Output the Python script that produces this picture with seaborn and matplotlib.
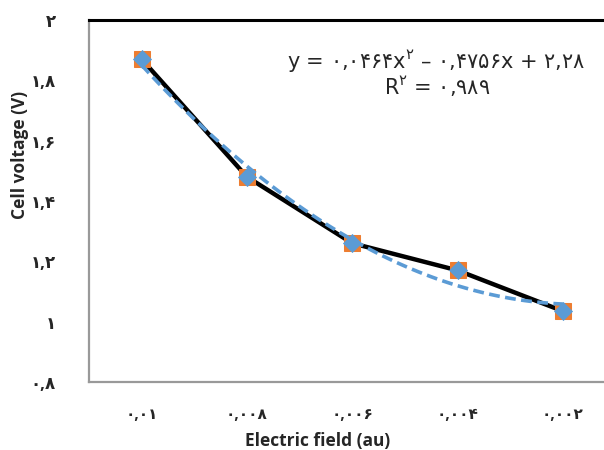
import matplotlib
matplotlib.use('Agg')
import matplotlib.pyplot as plt
import seaborn as sns
import numpy as np
import pandas as pd

# 数据
field_labels = ['۰,۰۱', '۰,۰۰۸', '۰,۰۰۶', '۰,۰۰۴', '۰,۰۰۲']
cell_voltage = [1.87, 1.48, 1.26, 1.17, 1.035]
y_ticks = [0.8, 1.0, 1.2, 1.4, 1.6, 1.8, 2.0]
y_tick_labels = ['۰,۸', '۱', '۱,۲', '۱,۴', '۱,۶', '۱,۸', '۲']
eq_text = 'y = ۰,۰۴۶۴x$^{\\mathregular{۲}}$ – ۰,۴۷۵۶x + ۲,۲۸'
r2_text = 'R$^{\\mathregular{۲}}$ = ۰,۹۸۹'

sns.set_theme(style='white')
plt.rcParams['font.family'] = ['Open Sans', 'DejaVu Sans']
plt.rcParams['mathtext.fontset'] = 'dejavusans'

df = pd.DataFrame({'pos': np.arange(len(field_labels)), 'voltage': cell_voltage})

fig = plt.figure(figsize=(6.04, 4.5), dpi=100)
ax = fig.add_axes([89 / 604, 1 - 382 / 450, 526.5 / 604, 362 / 450])

# 黑色折线 + 橙色方块
sns.lineplot(data=df, x='pos', y='voltage', ax=ax, color='black', linewidth=3.2,
             marker='s', markersize=11, markerfacecolor='#ED7D31',
             markeredgecolor='#ED7D31', zorder=3)

# 二次多项式趋势线
coef = np.polyfit(df['pos'] + 1, df['voltage'], 2)
xs = np.linspace(1, len(field_labels), 100)
ax.plot(xs - 1, np.polyval(coef, xs), color='#5B9BD5', linewidth=2.6,
        linestyle=(0, (3, 1.5)), zorder=4)

# 蓝色菱形
sns.scatterplot(data=df, x='pos', y='voltage', ax=ax, marker='D', s=85,
                color='#5B9BD5', edgecolor='#5B9BD5', linewidth=0.5, zorder=5)

ax.set_xlim(-0.5, 4.5)
ax.set_ylim(0.8, 2.0)
ax.set_xticks(df['pos'])
ax.set_xticklabels(field_labels, fontsize=11, fontweight='bold', color='#262626')
ax.set_yticks(y_ticks)
ax.set_yticklabels(y_tick_labels, fontsize=12, fontweight='bold', color='#262626')
ax.tick_params(axis='x', length=0, pad=19)
ax.tick_params(axis='y', length=0, pad=24)
ax.set_xlabel('')
ax.set_ylabel('')

for side in ['left', 'bottom']:
    ax.spines[side].set_color('#999999')
    ax.spines[side].set_linewidth(1.6)
ax.spines['top'].set_color('black')
ax.spines['top'].set_linewidth(2.2)
ax.spines['right'].set_visible(False)

fig.text(436 / 604, 1 - 62 / 450, eq_text, ha='center', va='center', fontsize=15,
         family='DejaVu Sans')
fig.text(437 / 604, 1 - 87 / 450, r2_text, ha='center', va='center', fontsize=15,
         family='DejaVu Sans')

fig.text(318 / 604, 1 - 441 / 450, 'Electric field (au)', ha='center', va='center',
         fontsize=12.5, fontweight='bold')
fig.text(20 / 604, 1 - 155 / 450, 'Cell voltage (V)', ha='center', va='center',
         fontsize=12.5, fontweight='bold', rotation=90)

fig.savefig('out.png', dpi=100, facecolor='white')
